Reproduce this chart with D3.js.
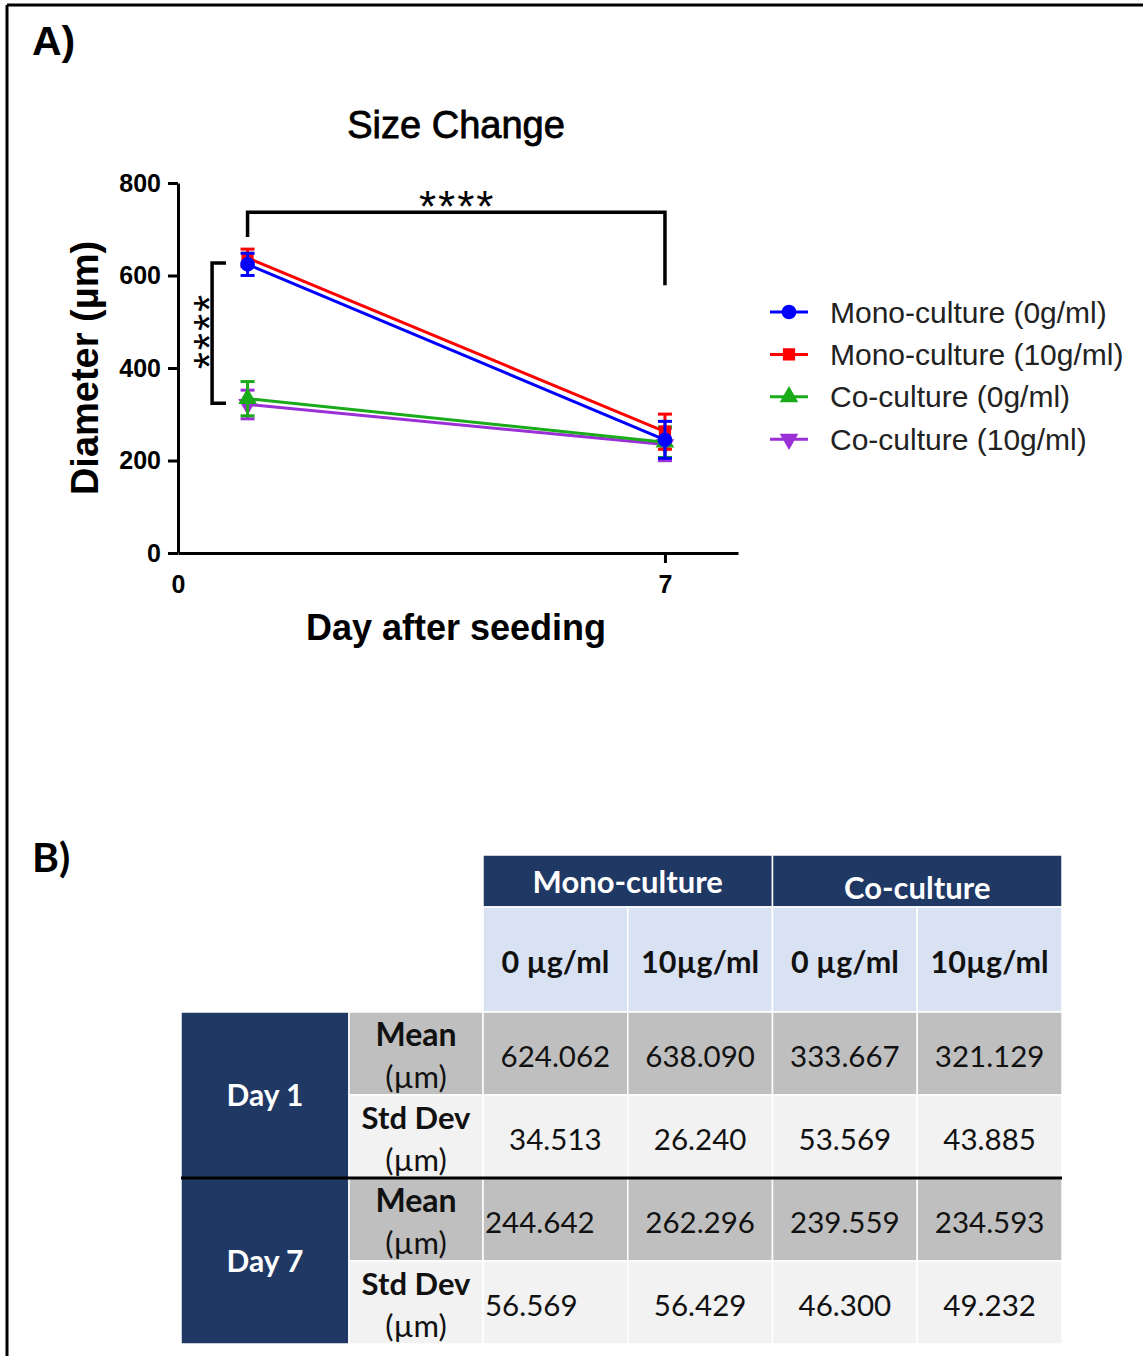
<!DOCTYPE html>
<html>
<head>
<meta charset="utf-8">
<script src="https://cdn.jsdelivr.net/npm/d3@7"></script>
<style>
  body { margin: 0; background: #fff; }
  svg { display: block; }
</style>
</head>
<body>
<svg id="fig" width="1143" height="1356"></svg>
<script>
// series of panel A
const seriesNames = ["Mono-culture (0g/ml)", "Mono-culture (10g/ml)", "Co-culture (0g/ml)", "Co-culture (10g/ml)"];
const seriesColors = ["#0000ff", "#ff0000", "#1aab1a", "#9b30d6"];
const seriesSymbols = ["circle", "square", "triangle", "triangleDown"];
const days = [1, 7];
const xTicks = [0, 7];
const yTicks = [0, 200, 400, 600, 800];

// values (table of panel B)
const day1Mean = [624.062, 638.090, 333.667, 321.129];
const day1Sd = [34.513, 26.240, 53.569, 43.885];
const day7Mean = [244.642, 262.296, 239.559, 234.593];
const day7Sd = [56.569, 56.429, 46.300, 49.232];
// error bar half lengths as drawn in the plot
const day1Err = [24, 19, 37, 31];
const day7Err = [40, 38, 33, 35];

// table labels
const groups = ["Mono-culture", "Co-culture"];
const doses = ["0 µg/ml", "10µg/ml", "0 µg/ml", "10µg/ml"];
const dayLabels = ["Day 1", "Day 7"];
const statLabels = ["Mean", "Std Dev"];

const svg = d3.select("#fig");
const ARIAL = "Liberation Sans, Arial, Helvetica, sans-serif";
const CAL = "Lato, 'Open Sans', sans-serif";

// frame (only top and left edge are in view)
svg.append("line").attr("x1", 7).attr("x2", 1143).attr("y1", 5).attr("y2", 5)
	.attr("stroke", "#000").attr("stroke-width", 3);
svg.append("line").attr("x1", 7).attr("x2", 7).attr("y1", 5).attr("y2", 1356)
	.attr("stroke", "#000").attr("stroke-width", 3);

svg.append("text").attr("x", 32).attr("y", 55).text("A)")
	.attr("font-family", ARIAL).attr("font-weight", "bold").attr("font-size", 41);
svg.append("text").attr("x", 32).attr("y", 872).text("B)")
	.attr("font-family", CAL).attr("font-weight", "bold").attr("font-size", 41);

// ---------- panel A ----------
const x = d3.scaleLinear().domain([0, 8.05]).range([178, 738]);
const y = d3.scaleLinear().domain([0, 800]).range([553, 183]);

const g = svg.append("g");

const yAxis = g.append("g").attr("transform", `translate(${x(0)},0)`)
	.call(d3.axisLeft(y).tickValues(yTicks).tickSize(10).tickSizeOuter(0).tickPadding(7));
const xAxis = g.append("g").attr("transform", `translate(0,${y(0)})`)
	.call(d3.axisBottom(x).tickValues(xTicks).tickSize(10).tickSizeOuter(0).tickPadding(12));

[yAxis, xAxis].forEach(a => {
	a.selectAll("path, line").attr("stroke", "#000").attr("stroke-width", 3);
	a.selectAll("text").attr("font-family", ARIAL).attr("font-weight", "bold")
		.attr("font-size", 25).attr("fill", "#000");
});
xAxis.selectAll(".tick line").filter(d => d === 0).remove();

g.append("text").attr("x", 456).attr("y", 138).attr("text-anchor", "middle")
	.attr("font-family", ARIAL).attr("font-size", 38).attr("stroke", "#000").attr("stroke-width", 0.8)
	.text("Size Change");
g.append("text").attr("x", 456).attr("y", 640).attr("text-anchor", "middle")
	.attr("font-family", ARIAL).attr("font-weight", "bold").attr("font-size", 36)
	.text("Day after seeding");
g.append("text").attr("transform", `translate(98,${(y(0) + y(800)) / 2}) rotate(-90)`)
	.attr("text-anchor", "middle")
	.attr("font-family", ARIAL).attr("font-weight", "bold").attr("font-size", 38)
	.text("Diameter (µm)");

const series = seriesNames.map((name, i) => ({
	name: name,
	color: seriesColors[i],
	symbol: seriesSymbols[i],
	points: [
		{ day: days[0], mean: day1Mean[i], err: day1Err[i] },
		{ day: days[1], mean: day7Mean[i], err: day7Err[i] }
	]
}));

const symbolOf = {
	circle: d3.symbol().type(d3.symbolCircle).size(170),
	square: d3.symbol().type(d3.symbolSquare).size(150),
	triangle: d3.symbol().type(d3.symbolTriangle).size(150),
	triangleDown: d3.symbol().type(d3.symbolTriangle).size(150)
};

const line = d3.line().x(d => x(d.day)).y(d => y(d.mean));

// draw back to front so blue sits on top like the original
const drawOrder = [3, 2, 1, 0];
drawOrder.forEach(i => {
	const s = series[i];
	const sg = g.append("g");
	sg.append("path").datum(s.points).attr("d", line)
		.attr("fill", "none").attr("stroke", s.color).attr("stroke-width", 3);
	s.points.forEach(p => {
		const cx = x(p.day);
		sg.append("line").attr("x1", cx).attr("x2", cx)
			.attr("y1", y(p.mean - p.err)).attr("y2", y(p.mean + p.err))
			.attr("stroke", s.color).attr("stroke-width", 3);
		[p.mean - p.err, p.mean + p.err].forEach(v => {
			sg.append("line").attr("x1", cx - 7).attr("x2", cx + 7)
				.attr("y1", y(v)).attr("y2", y(v))
				.attr("stroke", s.color).attr("stroke-width", 3);
		});
		sg.append("path").attr("d", symbolOf[s.symbol]())
			.attr("transform", `translate(${cx},${y(p.mean)})` + (s.symbol === "triangleDown" ? " rotate(180)" : ""))
			.attr("fill", s.color);
	});
});

// significance brackets
const bTop = 737, bLeftEnd = 683, bRightEnd = 579;
g.append("path")
	.attr("d", `M${x(1)},${y(bLeftEnd)} V${y(bTop)} H${x(7)} V${y(bRightEnd)}`)
	.attr("fill", "none").attr("stroke", "#000").attr("stroke-width", 3.5);
g.append("text").attr("x", (x(1) + x(7)) / 2 + 1).attr("y", 222).attr("text-anchor", "middle")
	.attr("font-family", ARIAL).attr("font-size", 44).attr("letter-spacing", 2).text("****");

const vbX = x(0.49), vbX2 = x(0.69), vbTop = 627, vbBot = 324;
g.append("path")
	.attr("d", `M${vbX2},${y(vbTop)} H${vbX} V${y(vbBot)} H${vbX2}`)
	.attr("fill", "none").attr("stroke", "#000").attr("stroke-width", 3.5);
g.append("text").attr("transform", `translate(${vbX + 13},${(y(vbTop) + y(vbBot)) / 2 - 2}) rotate(-90)`)
	.attr("text-anchor", "middle")
	.attr("font-family", ARIAL).attr("font-size", 44).attr("letter-spacing", 2).text("****");

// legend
const legend = g.append("g");
series.forEach((s, i) => {
	const ly = 312 + i * 42.4;
	legend.append("line").attr("x1", 770).attr("x2", 808).attr("y1", ly).attr("y2", ly)
		.attr("stroke", s.color).attr("stroke-width", 3);
	legend.append("path").attr("d", symbolOf[s.symbol]())
		.attr("transform", `translate(789,${ly})` + (s.symbol === "triangleDown" ? " rotate(180)" : ""))
		.attr("fill", s.color);
	legend.append("text").attr("x", 830).attr("y", ly).attr("dy", "0.35em")
		.attr("font-family", ARIAL).attr("font-size", 30).attr("fill", "#222").text(s.name);
});

// ---------- panel B : table ----------
const NAVY = "#203864", LIGHTBLUE = "#d9e2f3", GREY = "#bfbfbf", PALE = "#f2f2f2";
const colX = d3.range(5).map(i => 483 + i * 144.75);
const dayX0 = 181, statX0 = 349;
const rowY = [1012, 1095, 1178, 1261, 1344];
const t = svg.append("g");

function cell(x0, y0, w, h, fill) {
	t.append("rect").attr("x", x0).attr("y", y0).attr("width", w).attr("height", h)
		.attr("fill", fill).attr("stroke", "#fff").attr("stroke-width", 1.5);
}
function label(tx, ty, str, opts) {
	const o = Object.assign({ size: 29, weight: "normal", fill: "#111", anchor: "middle" }, opts || {});
	t.append("text").attr("x", tx).attr("y", ty).attr("dy", "0.35em")
		.attr("text-anchor", o.anchor).attr("font-family", CAL)
		.attr("font-size", o.size).attr("font-weight", o.weight).attr("fill", o.fill).text(str);
}

// header rows
groups.forEach((gname, i) => {
	cell(colX[i * 2], 855, colX[i * 2 + 2] - colX[i * 2], 52, NAVY);
	label((colX[i * 2] + colX[i * 2 + 2]) / 2, i === 0 ? 882 : 888, gname, { weight: "bold", fill: "#fff", size: 31 });
});
doses.forEach((d, i) => {
	cell(colX[i], 907, colX[i + 1] - colX[i], rowY[0] - 907, LIGHTBLUE);
	label((colX[i] + colX[i + 1]) / 2, 962, d, { weight: "bold", size: 30.5 });
});

const rowsMean = [day1Mean, day7Mean];
const rowsSd = [day1Sd, day7Sd];
dayLabels.forEach((dl, di) => {
	const yTop = rowY[di * 2], yMid = rowY[di * 2 + 1], yBot = rowY[di * 2 + 2];
	cell(dayX0, yTop, statX0 - dayX0, yBot - yTop, NAVY);
	label((dayX0 + statX0) / 2, (yTop + yBot) / 2, dl, { weight: "bold", fill: "#fff", size: 30 });
	[[rowsMean[di], GREY, yTop, yMid], [rowsSd[di], PALE, yMid, yBot]].forEach(([vals, fill, a, b], si) => {
		cell(statX0, a, colX[0] - statX0, b - a, fill);
		label((statX0 + colX[0]) / 2, a + 23, statLabels[si], { weight: "bold", size: si === 0 ? 32 : 31 });
		label((statX0 + colX[0]) / 2, a + 65, "(µm)", { size: 31 });
		vals.forEach((v, ci) => {
			cell(colX[ci], a, colX[ci + 1] - colX[ci], b - a, fill);
			const left = di === 1 && ci === 0;
			label(left ? colX[ci] + 2 : (colX[ci] + colX[ci + 1]) / 2, (a + b) / 2 + 3,
				v.toFixed(3), { anchor: left ? "start" : "middle", size: 29.5 });
		});
	});
});
t.append("line").attr("x1", dayX0).attr("x2", colX[4]).attr("y1", rowY[2]).attr("y2", rowY[2])
	.attr("stroke", "#000").attr("stroke-width", 3);
</script>
</body>
</html>
